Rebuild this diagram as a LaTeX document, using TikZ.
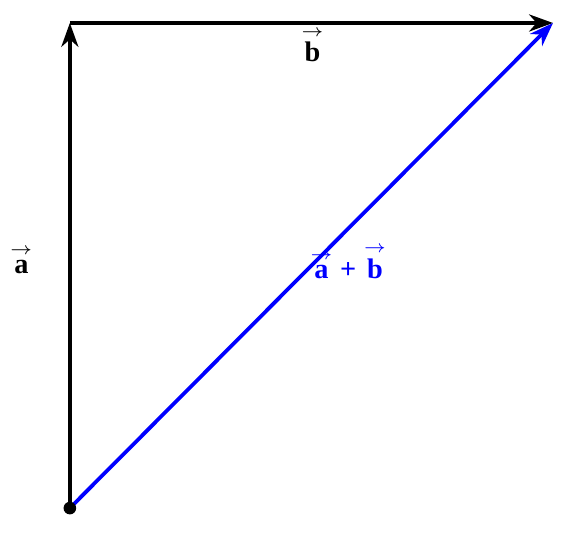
\documentclass[tikz,border=0pt]{standalone}
\usepackage{amsmath}
\usepackage{amssymb}
\usepackage{fontspec}
\setmainfont{Liberation Serif}
\usetikzlibrary{arrows.meta,positioning}
\definecolor{vecblue}{RGB}{0,0,255}
\tikzstyle{vecarrow} = [line width=1.1pt,-{Stealth[length=7pt,width=5pt,inset=2.2pt]},color=black]
\tikzstyle{veclabel} = [font=\fontsize{8.3}{10}\selectfont\bfseries, inner sep=1pt, anchor=base]
\newcommand{\bvec}[1]{\ensuremath{\overset{\scriptscriptstyle\rightarrow}{\text{\bfseries #1}}}}

\begin{document}
\begin{tikzpicture}
    \useasboundingbox (-0.72,-0.247) rectangle (5.124,5.237);

    % Points
    \coordinate (origin) at (0, 0);
    \coordinate (atip) at (0, 5);
    \coordinate (sumtip) at (4.98, 5);

    % Vectors
    \draw[vecarrow] (origin) -- (atip);
    \draw[vecarrow] (atip) -- (sumtip);
    \draw[vecarrow, color=vecblue] (origin) -- (sumtip);
    \fill (origin) circle (0.065);

    % Labels
    \node[veclabel] (alabel) at (-0.5, 2.42) {\bvec{a}};
    \node[veclabel] (blabel) at (2.5, 4.60) {\bvec{b}};
    \node[veclabel, text=vecblue] (sumlabel) at (2.87, 2.37) {\bvec{a} + \bvec{b}};
\end{tikzpicture}
\end{document}
